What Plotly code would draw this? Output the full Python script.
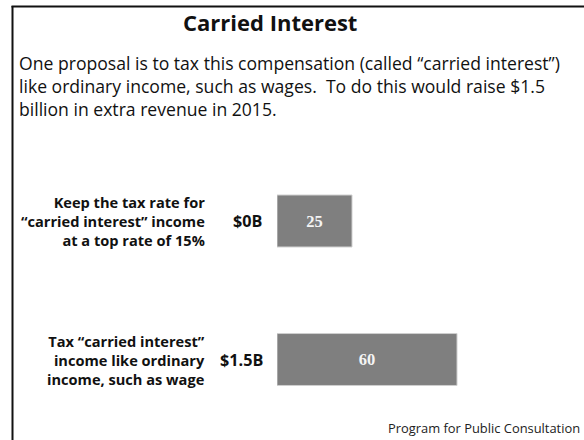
import plotly.graph_objects as go

# ---- data ----
categories = ["keep", "tax"]
category_labels = [
    "Keep the tax rate for<br>“carried interest” income<br>at a top rate of 15%",
    "Tax “carried interest”<br>income like ordinary<br>income, such as wage",
]
values = [25, 60]
revenue_labels = ["$0B", "$1.5B"]

title_text = "Carried Interest"
intro_text = ("One proposal is to tax this compensation (called “carried interest”)<br>"
              "like ordinary income, such as wages.  To do this would raise $1.5<br>"
              "billion in extra revenue in 2015.")
source_text = "Program for Public Consultation"

W, H = 584, 440
SANS = "'Open Sans', Lato, sans-serif"

fig = go.Figure()
fig.add_trace(go.Bar(
    x=values, y=categories, orientation="h",
    width=0.375,
    marker=dict(color="#7f7f7f", line=dict(color="#cfcfcf", width=1)),
    text=["<b>" + str(v) + "</b>" for v in values], textposition="inside",
    insidetextanchor="middle",
    textfont=dict(family="'Liberation Serif', 'DejaVu Serif', serif", size=16.5, color="#f4f4f4"),
    hoverinfo="skip", showlegend=False,
))

# pixel mapping helpers
def px(xp):
    return xp / W

def py(yp):
    return 1 - yp / H

annotations = [
    dict(text="<b>" + title_text + "</b>", x=px(270), y=py(22), xref="paper", yref="paper",
         xanchor="center", yanchor="middle", showarrow=False,
         font=dict(family=SANS, size=22, color="#111")),
    dict(text=intro_text, x=px(17), y=py(86), xref="paper", yref="paper",
         xanchor="left", yanchor="middle", align="left", showarrow=False,
         font=dict(family=SANS, size=17.6, color="#111")),
    dict(text=source_text, x=px(582), y=py(428), xref="paper", yref="paper",
         xanchor="right", yanchor="middle", showarrow=False,
         font=dict(family=SANS, size=12.9, color="#222")),
]
for cat, lab, rev in zip(categories, category_labels, revenue_labels):
    annotations.append(dict(text="<b>" + lab + "</b>", x=px(207), y=cat, xref="paper", yref="y",
                            xanchor="right", yanchor="middle", align="right", showarrow=False,
                            font=dict(family=SANS, size=14.6, color="#111")))
    annotations.append(dict(text="<b>" + rev + "</b>", x=px(265), y=cat, xref="paper", yref="y",
                            xanchor="right", yanchor="middle", showarrow=False,
                            font=dict(family=SANS, size=16.2, color="#111")))

shapes = [
    dict(type="line", xref="paper", yref="paper", x0=px(12.5), x1=px(12.5), y0=0, y1=py(6),
         line=dict(color="#111", width=2)),
    dict(type="line", xref="paper", yref="paper", x0=px(11.5), x1=1, y0=py(6.5), y1=py(6.5),
         line=dict(color="#111", width=2)),
]

top_val = -221 / 138.5
bot_val = (H - 221) / 138.5

fig.update_layout(
    width=W, height=H, autosize=False,
    margin=dict(l=0, r=0, t=0, b=0),
    paper_bgcolor="white", plot_bgcolor="white",
    xaxis=dict(domain=[px(277), px(577)], range=[0, 100], visible=False, fixedrange=True),
    yaxis=dict(domain=[0, 1], range=[bot_val, top_val], visible=False,
               categoryorder="array", categoryarray=categories, fixedrange=True),
    annotations=annotations, shapes=shapes,
    uniformtext=dict(mode=False),
)

fig.write_html("out.html", config={"displayModeBar": False},
               post_script="document.body.style.margin='0';document.body.style.padding='0';"
                           "document.body.style.overflow='hidden';")
